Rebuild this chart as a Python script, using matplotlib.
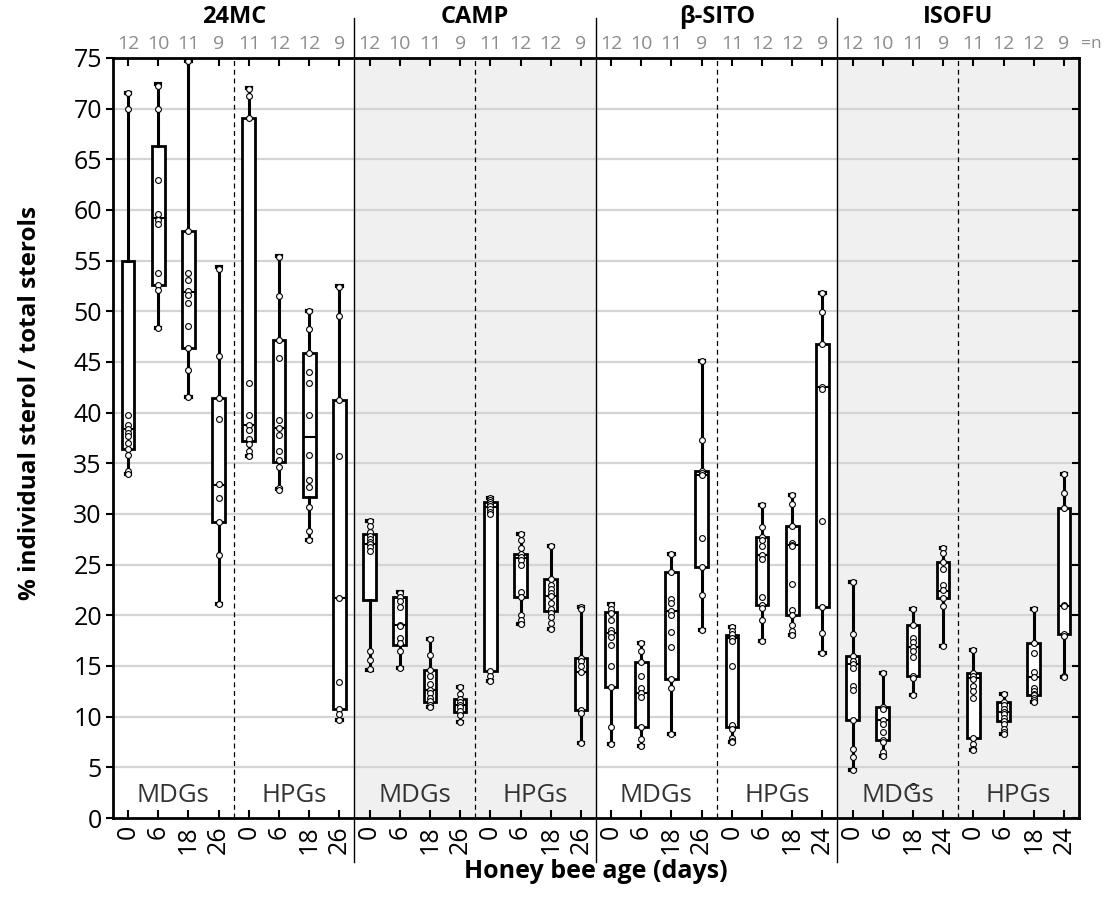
import matplotlib
matplotlib.use("Agg")
import matplotlib.pyplot as plt
import matplotlib.transforms as mtransforms

plt.rcParams['font.family'] = ['Open Sans', 'DejaVu Sans']

# sterol groups, each split into MDGs / HPGs x 4 ages
groups = ["24MC", "CAMP", "β-SITO", "ISOFU"]
glands = ["MDGs", "HPGs"]
age_labels = ["0", "6", "18", "26", "0", "6", "18", "26",
              "0", "6", "18", "26", "0", "6", "18", "26",
              "0", "6", "18", "26", "0", "6", "18", "24",
              "0", "6", "18", "24", "0", "6", "18", "24"]
n_counts = [12, 10, 11, 9, 11, 12, 12, 9] * 4

# box statistics (percent)
whis_lo = [33.9, 48.4, 41.5, 21.1, 35.7, 32.5, 27.4, 9.7,
           14.6, 14.8, 11.0, 9.5, 13.5, 19.1, 18.7, 7.4,
           7.3, 7.1, 8.3, 18.6, 7.5, 17.5, 18.1, 16.3,
           4.7, 6.1, 12.1, 17.0, 6.7, 8.3, 11.4, 13.9]
q1 = [36.4, 52.6, 46.4, 29.2, 37.2, 35.1, 31.7, 10.8,
      21.5, 17.1, 11.4, 10.5, 14.5, 21.8, 20.4, 10.7,
      12.9, 9.0, 13.7, 24.8, 9.0, 21.0, 20.0, 20.8,
      9.7, 7.7, 14.0, 21.7, 7.9, 9.6, 12.1, 18.2]
med = [38.4, 59.2, 51.9, 32.9, 38.8, 38.5, 37.6, 21.7,
       27.0, 19.0, 12.6, 11.2, 30.7, 25.7, 21.9, 14.4,
       18.3, 12.3, 20.4, 33.8, 17.8, 26.0, 26.9, 42.5,
       15.2, 9.7, 16.9, 22.4, 13.8, 10.5, 13.9, 20.9]
q3 = [55.0, 66.3, 57.9, 41.4, 69.1, 47.2, 45.9, 41.2,
      28.0, 21.8, 14.6, 11.7, 31.2, 26.1, 23.6, 15.8,
      20.3, 15.4, 24.3, 34.2, 18.1, 27.7, 28.8, 46.8,
      16.0, 11.0, 19.0, 25.3, 14.3, 11.4, 17.3, 30.6]
whis_hi = [71.5, 72.4, 74.7, 54.4, 72.0, 55.5, 50.0, 52.5,
           29.3, 22.3, 17.7, 12.9, 31.6, 28.0, 26.8, 20.8,
           21.1, 17.3, 26.1, 45.1, 18.8, 30.9, 31.9, 51.8,
           23.3, 14.3, 20.6, 26.6, 16.6, 12.2, 20.6, 33.9]

# individual bees
points = [
    [71.5, 70.0, 39.8, 38.8, 38.4, 38.0, 37.7, 37.0, 36.4, 35.8, 34.2, 33.9],
    [72.2, 70.0, 63.0, 59.6, 59.0, 58.6, 53.8, 52.6, 52.1, 48.4],
    [74.7, 57.9, 53.8, 53.1, 52.0, 51.6, 50.8, 48.6, 46.4, 44.2, 41.5],
    [54.2, 45.6, 41.4, 39.4, 33.0, 31.6, 29.2, 26.0, 21.1],
    [71.9, 71.2, 69.1, 42.9, 39.8, 38.8, 38.3, 37.4, 36.9, 36.2, 35.7],
    [55.4, 51.5, 47.2, 45.4, 39.3, 38.5, 37.8, 36.2, 35.3, 34.6, 32.6, 32.4],
    [50.0, 48.3, 45.9, 44.0, 42.9, 39.8, 35.8, 33.4, 32.7, 30.7, 28.3, 27.4],
    [52.4, 49.5, 41.2, 35.7, 21.7, 13.4, 10.8, 10.3, 9.7],
    [29.3, 28.8, 28.2, 27.8, 27.5, 27.2, 27.0, 26.7, 26.3, 16.5, 15.6, 14.7],
    [22.2, 21.8, 21.4, 20.8, 19.0, 18.9, 17.8, 17.3, 16.5, 14.8],
    [17.7, 16.1, 14.6, 14.0, 13.2, 12.6, 12.3, 11.8, 11.5, 11.2, 11.0],
    [12.9, 12.2, 11.7, 11.4, 11.2, 11.0, 10.6, 10.2, 9.5],
    [31.6, 31.4, 31.2, 31.0, 30.8, 30.5, 30.2, 30.0, 14.5, 14.0, 13.5],
    [28.0, 27.4, 26.6, 26.1, 25.8, 25.5, 25.0, 22.3, 21.8, 20.0, 19.5, 19.1],
    [26.8, 23.6, 23.0, 22.6, 22.2, 21.9, 21.2, 20.6, 20.2, 19.8, 19.2, 18.7],
    [20.8, 20.6, 15.8, 15.5, 15.0, 14.4, 10.7, 10.4, 7.4],
    [21.0, 20.6, 20.2, 19.5, 18.6, 18.3, 17.9, 17.1, 15.0, 12.9, 9.0, 7.3],
    [17.3, 16.5, 15.4, 14.0, 12.8, 12.3, 11.9, 9.0, 7.8, 7.1],
    [26.1, 24.3, 21.6, 21.2, 20.4, 20.0, 18.4, 16.9, 13.7, 12.8, 8.3],
    [45.1, 37.3, 34.2, 34.0, 33.8, 27.6, 24.8, 22.0, 18.6],
    [18.8, 18.5, 18.2, 17.8, 17.5, 15.0, 9.2, 8.8, 7.9, 7.6, 7.5],
    [30.9, 28.7, 27.7, 27.4, 26.8, 26.0, 25.6, 21.8, 21.0, 20.7, 19.5, 17.5],
    [31.9, 31.0, 28.8, 27.1, 26.9, 26.8, 23.1, 20.5, 20.0, 19.0, 18.5, 18.1],
    [51.8, 49.9, 46.8, 42.5, 42.3, 29.3, 20.8, 18.3, 16.3],
    [23.3, 18.2, 16.0, 15.5, 15.2, 14.8, 13.0, 12.6, 9.7, 6.8, 6.0, 4.7],
    [14.3, 11.0, 10.8, 9.7, 9.3, 8.5, 7.7, 7.5, 6.5, 6.1],
    [20.6, 19.0, 17.8, 17.4, 16.9, 16.5, 15.9, 14.0, 13.8, 12.1, 3.2],
    [26.6, 26.2, 25.3, 24.6, 23.0, 22.5, 21.7, 20.9, 17.0],
    [16.6, 14.3, 14.0, 13.7, 13.0, 12.5, 11.8, 7.9, 7.3, 6.8, 6.7],
    [12.2, 11.4, 11.2, 10.8, 10.5, 10.3, 9.9, 9.6, 9.3, 8.8, 8.5, 8.3],
    [20.6, 17.3, 16.3, 14.4, 13.9, 12.8, 12.5, 12.2, 12.1, 11.8, 11.6, 11.4],
    [33.9, 32.1, 30.6, 21.0, 20.9, 18.2, 18.0, 14.0, 13.9],
]

pos = [i + 0.5 for i in range(len(med))]

fig = plt.figure(figsize=(11.11, 8.99), dpi=100)
ax = fig.add_axes([0.1017, 0.0901, 0.9712 - 0.1017, 0.8454])

# shaded groups + grid
ax.axvspan(8, 16, color="#f0f0f0", zorder=0, lw=0)
ax.axvspan(24, 32, color="#f0f0f0", zorder=0, lw=0)
for yv in range(5, 75, 5):
    ax.axhline(yv, color="#d4d4d4", lw=1.6, zorder=0.5)

stats = []
for i in range(len(med)):
    stats.append(dict(whislo=whis_lo[i], q1=q1[i], med=med[i], q3=q3[i],
                      whishi=whis_hi[i], fliers=[]))
ax.bxp(stats, positions=pos, widths=0.42, patch_artist=True, showfliers=False,
       capwidths=0.14,
       boxprops=dict(facecolor="white", edgecolor="black", lw=2),
       medianprops=dict(color="black", lw=1.5),
       whiskerprops=dict(color="black", lw=2.2),
       capprops=dict(color="black", lw=3),
       zorder=2)

for i, vals in enumerate(points):
    ax.plot([pos[i]] * len(vals), vals, "o", ms=4.2, mfc="white",
            mec="black", mew=0.8, zorder=3, clip_on=False)

# separators
trans = mtransforms.blended_transform_factory(ax.transData, ax.transAxes)
for xv in [8, 16, 24]:
    ax.plot([xv, xv], [-0.058, 1.052], color="black", lw=1.0,
            transform=trans, clip_on=False, zorder=4)
for xv in [4, 12, 20, 28]:
    ax.axvline(xv, color="black", lw=0.9, ls=(0, (4, 3)), zorder=1)

# gland labels and group titles
for g in range(len(groups)):
    for k, gl in enumerate(glands):
        ax.text(g * 8 + k * 4 + 2, 2.2, gl, ha="center", va="center",
                fontsize=18.5, color="#333333", zorder=5)
    ax.text(g * 8 + 4, 1.054, groups[g], ha="center", va="center",
            fontsize=17, fontweight="bold", transform=trans)

for i, n in enumerate(n_counts):
    ax.text(pos[i], 1.018, str(n), ha="center", va="center", fontsize=14,
            color="#8c8c8c", transform=trans)
ax.text(32.4, 1.018, "=n", ha="center", va="center", fontsize=12.5,
        color="#8c8c8c", transform=trans)

ax.set_xlim(0, 32)
ax.set_ylim(0, 75)
ax.set_yticks(range(0, 80, 5))
ax.set_xticks(pos)
ax.set_xticklabels(age_labels, rotation=90, fontsize=18)
ax.tick_params(axis="y", labelsize=18, direction="out", length=5, width=1.5,
               right=True, pad=3)
ax.tick_params(axis="x", direction="in", length=6, width=1.5, top=True, pad=5)
for sp in ax.spines.values():
    sp.set_linewidth(2)
    sp.set_zorder(6)

# inward ticks on right side
for t in ax.yaxis.get_major_ticks():
    t.tick2line.set_marker(matplotlib.lines.TICKLEFT)

ax.set_ylabel("% individual sterol / total sterols", fontsize=17.5,
              fontweight="bold")
ax.yaxis.set_label_coords(-0.073, 0.546)
ax.set_xlabel("Honey bee age (days)", fontsize=18, fontweight="bold",
              labelpad=4)

fig.savefig("out.png", dpi=100)
